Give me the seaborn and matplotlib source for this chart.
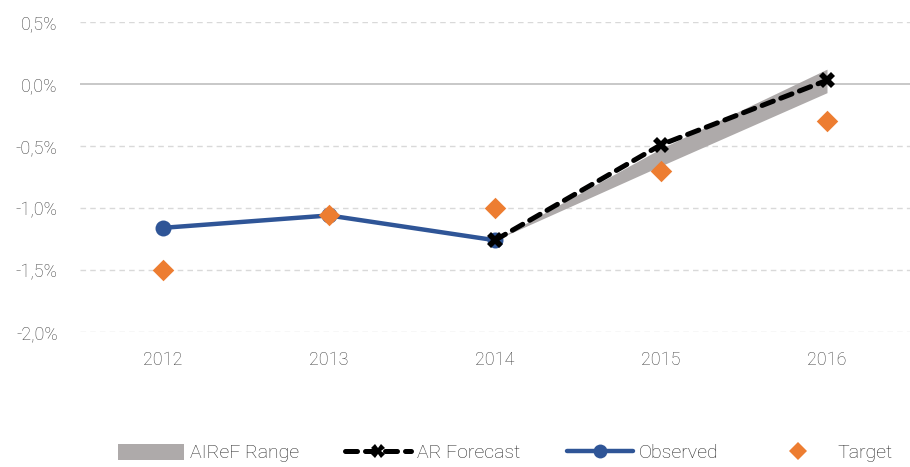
import pandas as pd
import matplotlib
matplotlib.use("Agg")
import matplotlib.pyplot as plt
import seaborn as sns
from matplotlib.patches import Patch
from matplotlib.lines import Line2D

# datos del gráfico (% del PIB)
years = ["2012", "2013", "2014", "2015", "2016"]
observed = [-1.16, -1.06, -1.26, None, None]
target = [-1.50, -1.06, -1.00, -0.70, -0.30]
forecast = [None, None, -1.26, -0.49, 0.03]
range_low = [None, None, -1.26, -0.66, -0.07]
range_high = [None, None, -1.26, -0.52, 0.12]

df = pd.DataFrame({"year": years, "observed": observed, "target": target,
                   "forecast": forecast, "low": range_low, "high": range_high})
df["pos"] = range(len(df))

sns.set_style("white")
plt.rcParams["font.family"] = ["Roboto", "DejaVu Sans"]
plt.rcParams["font.weight"] = "light"

fig = plt.figure(figsize=(9.1, 4.67), dpi=100)
ax = fig.add_axes([80 / 910, (467 - 332) / 467, 830 / 910, 310 / 467])

dash = (0, (2.4, 1.6))

# rango AIReF
rng = df.dropna(subset=["low"])
ax.fill_between(rng["pos"], rng["low"], rng["high"], color="#AEAAAA", lw=0, zorder=2)

# observado
obs = df.dropna(subset=["observed"])
sns.lineplot(x="pos", y="observed", data=obs, ax=ax, color="#2F5597", lw=3.2,
             marker="o", markersize=11.5, markeredgewidth=0, zorder=3)

# previsión AR
fc = df.dropna(subset=["forecast"])
sns.lineplot(x="pos", y="forecast", data=fc, ax=ax, color="black", lw=3.6,
             linestyle=dash, dash_capstyle="round", marker="X", markersize=12,
             markeredgewidth=0, zorder=4)

# objetivo
sns.scatterplot(x="pos", y="target", data=df, ax=ax, color="#ED7D31", marker="D",
                s=120, linewidth=0, zorder=5, clip_on=False)

ax.set_xlim(-0.5, len(years) - 0.5)
ax.set_ylim(-2.0, 0.5)
ax.set_xticks(df["pos"])
ax.set_xticklabels(years)
yt = [-2.0, -1.5, -1.0, -0.5, 0.0, 0.5]
ax.set_yticks(yt)
ax.set_yticklabels([f"{v:.1f}%".replace(".", ",") for v in yt])
ax.tick_params(axis="both", labelsize=13, colors="#404040", length=0)
ax.tick_params(axis="x", pad=14)
ax.tick_params(axis="y", pad=16)
ax.set_xlabel("")
ax.set_ylabel("")

for v in yt:
    if v == 0:
        ax.axhline(v, color="#BFBFBF", lw=1.2, zorder=1)
    else:
        ax.axhline(v, color="#D9D9D9", lw=1, linestyle=(0, (4, 3)), zorder=1)

for s in ax.spines.values():
    s.set_visible(False)

handles = [
    Patch(facecolor="#AEAAAA", edgecolor="none"),
    Line2D([], [], color="black", lw=3.6, linestyle=dash, dash_capstyle="round",
           marker="X", markersize=10, markeredgewidth=0),
    Line2D([], [], color="#2F5597", lw=3.2, marker="o", markersize=10,
           markeredgewidth=0),
    Line2D([], [], color="#ED7D31", lw=0, marker="D", markersize=9,
           markeredgewidth=0),
]
labels = ["AIReF Range", "AR Forecast", "Observed", "Target"]
fig.legend(handles, labels, loc="center", bbox_to_anchor=(0.555, 14 / 467),
           ncol=4, frameon=False, fontsize=14, handlelength=3.4,
           handleheight=0.9, columnspacing=2.4, handletextpad=0.3,
           labelcolor="#262626")

fig.savefig("out.png", dpi=100)
